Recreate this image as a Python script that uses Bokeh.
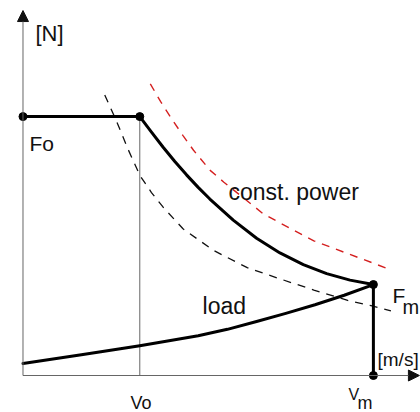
from bokeh.plotting import figure
from bokeh.models import Range1d, Arrow, NormalHead
from bokeh.embed import file_html
from bokeh.resources import INLINE
from bokeh.core.properties import value

# ---- data (speed v, force F in arbitrary units) ----
v0, vm = 1.0, 3.0
F0, Fm = 3.0, 1.054

# motor characteristic: constant force up to v0, then falling to Fm at vm
flat_v = [0.0, 1.0]
flat_F = [3.0, 3.0]
motor_v = [1.0, 1.1, 1.2, 1.3, 1.4, 1.5, 1.6, 1.8, 2.0, 2.2, 2.4, 2.6, 2.8, 3.0]
motor_F = [3.00, 2.82, 2.645, 2.48, 2.325, 2.18, 2.045, 1.80, 1.59, 1.42, 1.285, 1.18, 1.105, 1.054]
drop_v = [3.0, 3.0]
drop_F = [1.054, 0.0]

# load characteristic
load_v = [0.0, 0.5, 1.0, 1.5, 1.75, 2.0, 2.25, 2.5, 2.75, 3.0]
load_F = [0.14, 0.24, 0.345, 0.46, 0.535, 0.625, 0.72, 0.82, 0.93, 1.054]

# black dashed curve
dash_v = [0.70, 0.80, 0.90, 1.00, 1.10, 1.20, 1.37, 1.63, 1.92, 2.20, 2.49, 2.78, 2.98, 3.15]
dash_F = [3.25, 2.95, 2.62, 2.32, 2.12, 1.95, 1.70, 1.45, 1.25, 1.12, 0.99, 0.87, 0.81, 0.75]

# red dashed curve: constant power
power_v = [1.09, 1.18, 1.28, 1.37, 1.46, 1.60, 1.72, 2.06, 2.49, 3.12]
power_F = [3.38, 3.17, 2.96, 2.78, 2.61, 2.38, 2.24, 1.87, 1.56, 1.24]

# marked points
pts_v = [0.0, 1.0, 3.0, 3.0]
pts_F = [3.0, 3.0, 1.054, 0.0]

FONT = value("Liberation Sans")

p = figure(width=420, height=412,
           x_range=Range1d(-0.1926, 3.4033), y_range=Range1d(-0.4287, 4.3453),
           output_backend="svg", toolbar_location=None,
           x_axis_location=None, y_axis_location=None,
           min_border=0, outline_line_color=None)
p.grid.visible = False
p.background_fill_color = "white"
p.border_fill_color = "white"

AX = "#666666"
# axes with arrows
p.add_layout(Arrow(end=NormalHead(size=11, fill_color="#111111", line_color="#111111"),
                   x_start=0, y_start=0, x_end=3.394, y_end=0,
                   line_color=AX, line_width=1))
p.add_layout(Arrow(end=NormalHead(size=11, fill_color="#111111", line_color="#111111"),
                   x_start=0, y_start=0, x_end=0, y_end=4.229,
                   line_color=AX, line_width=1))
# thin vertical at v0
p.line([v0, v0], [0, F0], line_color=AX, line_width=1)

# dashed curves
p.line(dash_v, dash_F, line_color="#111111", line_width=1.3, line_dash="8 7")
p.line(power_v, power_F, line_color="#d42020", line_width=1.4, line_dash="8 7")

# thick characteristics
for xs, ys in [(flat_v, flat_F), (motor_v, motor_F), (drop_v, drop_F), (load_v, load_F)]:
    p.line(xs, ys, line_color="black", line_width=3, line_join="round", line_cap="round")

p.scatter(pts_v, pts_F, size=8, color="black")

def txt(x, y, s, size):
    p.text([x], [y], text=[s], text_font=FONT, text_font_size=f"{size}px",
           text_color="#111111", text_baseline="alphabetic", text_align="left")

txt(0.107, 3.963, "[N]", 22)
txt(0.056, 2.688, "Fo", 21)
txt(1.759, 2.121, "const. power", 23)
txt(1.537, 0.800, "load", 23)
txt(3.1635, 0.927, "F", 21)
txt(3.2491, 0.788, "m", 20)
txt(3.0351, 0.191, "[m/s]", 19)
txt(0.920, -0.324, "Vo", 18)
txt(2.787, -0.220, "V", 16)
txt(2.864, -0.324, "m", 18)

open("out.html", "w").write(file_html(p, INLINE))
